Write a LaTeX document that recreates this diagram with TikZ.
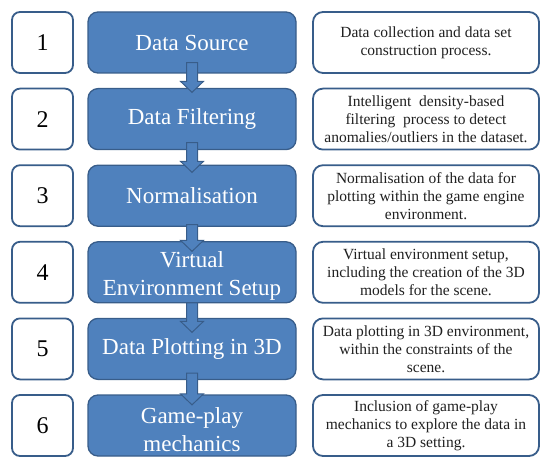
\documentclass[tikz,border=0pt]{standalone}
\usepackage{fontspec}
\setmainfont{Liberation Serif}
\usetikzlibrary{calc}
\definecolor{bfill}{HTML}{4F81BD}
\definecolor{bline}{HTML}{385D8A}
\definecolor{txt}{HTML}{202020}
\tikzset{
  numbox/.style={draw=bline, line width=1.8pt, fill=white, rounded corners=8pt,
    minimum width=61pt, minimum height=61pt, inner sep=0pt,
    font=\fontsize{24}{28}\selectfont, text=black},
  bluebox/.style={draw=bline, line width=1.3pt, fill=bfill, rounded corners=10pt,
    minimum width=208pt, minimum height=61pt, inner sep=0pt},
  bluetext/.style={inner sep=0pt, align=center,
    font=\fontsize{23}{28}\selectfont, text=white},
  descbox/.style={draw=bline, line width=1.8pt, fill=white, rounded corners=10pt,
    minimum width=226pt, minimum height=61pt, inner sep=0pt, align=center,
    font=\fontsize{15.5}{18}\selectfont, text=txt},
  blockarrow/.style={draw=bline, line width=1pt, fill=bfill, line join=miter}
}
\begin{document}
\begin{tikzpicture}[x=1pt,y=1pt]
\useasboundingbox (0,0) rectangle (540,-457);
\clip (0,0) rectangle (540,-457);
\foreach \i in {1,...,6}{
  \node[numbox] (n\i) at (42.5,{-42.5-(\i-1)*76.6}) {\i};
  \node[bluebox] (b\i) at (192,{-42.5-(\i-1)*76.6}) {};
}
\node[bluetext] (t1) at (b1.center) {Data Source};
\node[bluetext] (t2) at (b2.center) {Data Filtering};
\node[bluetext] (t3) at (b3.center) {Normalisation};
\node[bluetext] (t4) at ([yshift=-4pt]b4.center) {Virtual\\Environment Setup};
\node[bluetext] (t5) at (b5.center) {Data Plotting in 3D};
\node[bluetext] (t6) at ([yshift=-4pt]b6.center) {Game-play\\mechanics};
\node[descbox] (d1) at (426,-42.5) {Data collection and data set\\construction process.};
\node[descbox] (d2) at (426,-119.1) {Intelligent\ \ density-based\\filtering\ \ process to detect\\anomalies/outliers in the dataset.};
\node[descbox] (d3) at (426,-195.7) {Normalisation of the data for\\plotting within the game engine\\environment.};
\node[descbox] (d4) at (426,-272.3) {Virtual environment setup,\\including the creation of the 3D\\models for the scene.};
\node[descbox] (d5) at (426,-348.9) {Data plotting in 3D environment,\\within the constraints of the\\scene.};
\node[descbox] (d6) at (426,-425.5) {Inclusion of game-play\\mechanics to explore the data in\\a 3D setting.};
\foreach \a/\b/\s/\t in {b1/b2/11/4.4, b2/b3/7.6/7.8, b3/b4/2.2/10.2, b4/b5/0.5/14.6, b5/b6/7/10.5}{
  \draw[blockarrow] ($(\a.south)+(-5.5,\s)$)
    -- ($(\b.north)+(-5.5,{-\t+11})$)
    -- ($(\b.north)+(-11.5,{-\t+11})$)
    -- ($(\b.north)+(0,-\t)$)
    -- ($(\b.north)+(11.5,{-\t+11})$)
    -- ($(\b.north)+(5.5,{-\t+11})$)
    -- ($(\a.south)+(5.5,\s)$) -- cycle;
}
\end{tikzpicture}
\end{document}
